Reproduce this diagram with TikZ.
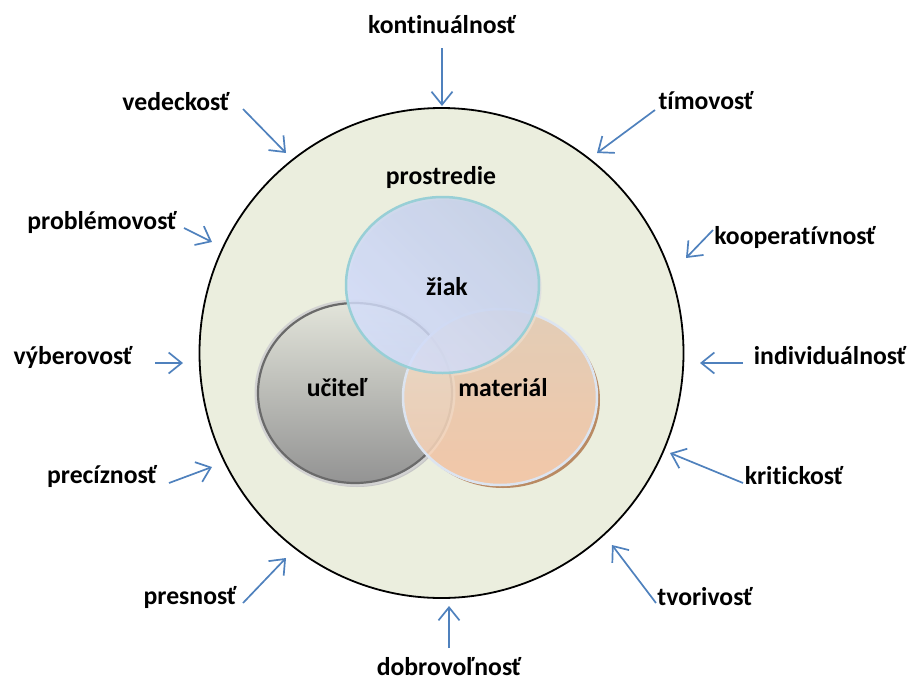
\documentclass[tikz,border=0pt]{standalone}
\usepackage{fontspec}
\setmainfont[Ligatures={NoCommon,NoRequired,NoContextual}]{Carlito}
\usetikzlibrary{arrows.meta}
\definecolor{arrowblue}{HTML}{4F81BD}
\definecolor{envfill}{HTML}{EBEEDE}
\definecolor{bluefillA}{HTML}{D4DEFC}
\definecolor{bluefillB}{HTML}{C3CFE8}
\definecolor{blueline}{HTML}{98CFD6}
\definecolor{grayA}{HTML}{E2E4DA}
\definecolor{grayB}{HTML}{939393}
\definecolor{grayline}{HTML}{6A6A6A}
\definecolor{orangeA}{HTML}{EAD9C6}
\definecolor{orangeB}{HTML}{FCD3B5}
\definecolor{orangeline}{HTML}{DCE4F0}
\definecolor{orangeshadow}{HTML}{B98A63}
\begin{document}
\begin{tikzpicture}[x=1pt,y=-1pt,
  lbl/.style={font=\fontsize{25.7}{30}\selectfont\bfseries, inner sep=0pt, text=black},
  arr/.style={draw=arrowblue, line width=1.7pt, -{Straight Barb[length=13pt,width=21pt,line width=1.7pt]}}]
\useasboundingbox (0,0) rectangle (911,681);

% environment circle
\draw[fill=envfill, line width=1.8pt] (441.5,353) ellipse [x radius=242, y radius=245];

% shadows
\fill[gray!45] (357,396) ellipse [x radius=98, y radius=91];
\fill[orangeshadow] (503,400) ellipse [x radius=97, y radius=88];
\fill[gray!25] (445,288) ellipse [x radius=96.5, y radius=88];

% teacher (gray)
\shade[top color=grayA, bottom color=grayB] (355,393) ellipse [x radius=97, y radius=90];
\draw[gray!35, line width=4pt] (355,393) ellipse [x radius=98.5, y radius=91.5];
\draw[grayline, line width=2.2pt] (355,393) ellipse [x radius=97, y radius=90];

% material (orange)
\shade[top color=orangeA, bottom color=orangeB, fill opacity=0.85] (500,397) ellipse [x radius=97, y radius=88];
\draw[orangeline, line width=2.5pt] (500,397) ellipse [x radius=97, y radius=88];

% student (blue)
\shade[left color=bluefillA, right color=bluefillB, shading angle=135, fill opacity=0.82] (442.5,285) ellipse [x radius=96.5, y radius=88];
\draw[blueline, line width=2.5pt] (442.5,285) ellipse [x radius=96.5, y radius=88];

% inner labels
\node[lbl] (prostredie) at (441,177) {prostredie};
\node[lbl] (ziak) at (447,287) {žiak};
\node[lbl] (ucitel) at (337,388) {učiteľ};
\node[lbl] (material) at (503,388) {materiál};

% outer labels
\node[lbl] (kont) at (442,25) {kontinuálnosť};
\node[lbl] (ved) at (176,102) {vedeckosť};
\node[lbl] (prob) at (102,222) {problémovosť};
\node[lbl] (vyb) at (73,357) {výberovosť};
\node[lbl] (prec) at (102,476) {precíznosť};
\node[lbl] (pres) at (190,597) {presnosť};
\node[lbl] (dobr) at (449,667) {dobrovoľnosť};
\node[lbl] (tvor) at (705,597) {tvorivosť};
\node[lbl] (krit) at (794,476) {kritickosť};
\node[lbl] (indi) at (830,356) {individuálnosť};
\node[lbl] (koop) at (795,237) {kooperatívnosť};
\node[lbl] (tim) at (706,101) {tímovosť};

% arrow coordinates
\coordinate (kontS) at (442,48);  \coordinate (kontE) at (442,106);
\coordinate (vedS) at (243,109);  \coordinate (vedE) at (286,153);
\coordinate (probS) at (184,228); \coordinate (probE) at (212,242);
\coordinate (vybS) at (155,363);  \coordinate (vybE) at (183,363);
\coordinate (precS) at (169,483); \coordinate (precE) at (212,467);
\coordinate (presS) at (243,603); \coordinate (presE) at (286,558);
\coordinate (dobrS) at (449,648); \coordinate (dobrE) at (449,606);
\coordinate (tvorS) at (656,603); \coordinate (tvorE) at (612,545);
\coordinate (kritS) at (743,483); \coordinate (kritE) at (670,453);
\coordinate (indiS) at (743,363); \coordinate (indiE) at (700,363);
\coordinate (koopS) at (713,230); \coordinate (koopE) at (686,258);
\coordinate (timS) at (655,110);  \coordinate (timE) at (597,153);

\foreach \n in {kont,ved,prob,vyb,prec,pres,dobr,tvor,krit,indi,koop,tim}
  \draw[arr] (\n S) -- (\n E);
\end{tikzpicture}
\end{document}
